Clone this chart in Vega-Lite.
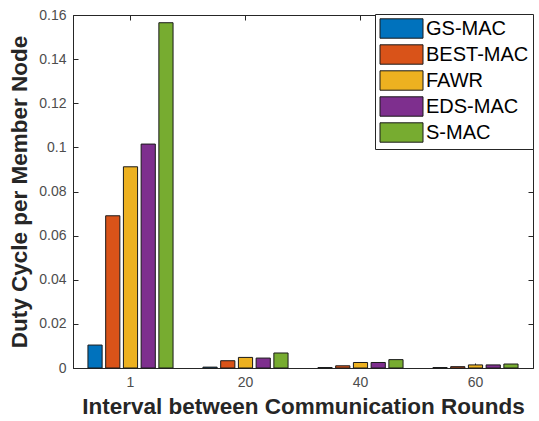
{
  "$schema": "https://vega.github.io/schema/vega-lite/v6.json",
  "width": 460,
  "height": 353,
  "autosize": {"type": "none"},
  "padding": {"left": 73, "top": 15, "right": 6, "bottom": 53},
  "background": "white",
  "config": {
    "font": "Liberation Sans",
    "view": {"stroke": "#262626", "strokeWidth": 1},
    "axis": {"grid": false, "domainColor": "#262626", "tickColor": "#262626", "labelColor": "#4d4d4d", "labelFont": "Liberation Sans", "labelFontSize": 14, "titleFont": "Liberation Sans", "titleFontWeight": "bold", "titleColor": "#262626", "titleFontSize": 22.5}
  },
  "data": {
    "values": [
      {"interval": "1", "protocol": "GS-MAC", "duty": 0.0104},
      {"interval": "1", "protocol": "BEST-MAC", "duty": 0.069},
      {"interval": "1", "protocol": "FAWR", "duty": 0.0912},
      {"interval": "1", "protocol": "EDS-MAC", "duty": 0.1015},
      {"interval": "1", "protocol": "S-MAC", "duty": 0.1565},
      {"interval": "20", "protocol": "GS-MAC", "duty": 0.0004},
      {"interval": "20", "protocol": "BEST-MAC", "duty": 0.0033},
      {"interval": "20", "protocol": "FAWR", "duty": 0.0048},
      {"interval": "20", "protocol": "EDS-MAC", "duty": 0.0045},
      {"interval": "20", "protocol": "S-MAC", "duty": 0.0068},
      {"interval": "40", "protocol": "GS-MAC", "duty": 0.0002},
      {"interval": "40", "protocol": "BEST-MAC", "duty": 0.001},
      {"interval": "40", "protocol": "FAWR", "duty": 0.0025},
      {"interval": "40", "protocol": "EDS-MAC", "duty": 0.0025},
      {"interval": "40", "protocol": "S-MAC", "duty": 0.0038},
      {"interval": "60", "protocol": "GS-MAC", "duty": 0.0002},
      {"interval": "60", "protocol": "BEST-MAC", "duty": 0.0006},
      {"interval": "60", "protocol": "FAWR", "duty": 0.0014},
      {"interval": "60", "protocol": "EDS-MAC", "duty": 0.0014},
      {"interval": "60", "protocol": "S-MAC", "duty": 0.0018}
    ]
  },
  "resolve": {"axis": {"x": "independent", "y": "independent"}},
  "layer": [
    {
      "mark": {"type": "bar", "stroke": "#1a1a1a", "strokeWidth": 1},
      "encoding": {
        "x": {"field": "interval", "type": "ordinal", "sort": ["1", "20", "40", "60"],
          "scale": {"paddingInner": 0.26, "paddingOuter": 0.13},
          "axis": {"title": "Interval between Communication Rounds", "labelAngle": 0, "tickSize": -5, "labelPadding": 12, "titlePadding": 6}},
        "xOffset": {"field": "protocol", "type": "nominal", "sort": ["GS-MAC", "BEST-MAC", "FAWR", "EDS-MAC", "S-MAC"], "scale": {"paddingInner": 0.2}},
        "y": {"field": "duty", "type": "quantitative",
          "scale": {"domain": [0, 0.16], "nice": false},
          "axis": {"title": "Duty Cycle per Member Node", "values": [0, 0.02, 0.04, 0.06, 0.08, 0.1, 0.12, 0.14, 0.16], "format": ".2~f", "tickSize": -5, "labelPadding": 12, "titlePadding": 7}},
        "color": {"field": "protocol", "type": "nominal", "sort": ["GS-MAC", "BEST-MAC", "FAWR", "EDS-MAC", "S-MAC"],
          "scale": {"domain": ["GS-MAC", "BEST-MAC", "FAWR", "EDS-MAC", "S-MAC"], "range": ["#0072BD", "#D95319", "#EDB120", "#7E2F8E", "#77AC30"]},
          "legend": {"title": null, "orient": "none", "legendX": 302, "legendY": -1, "strokeColor": "#262626", "fillColor": "white", "padding": 4, "symbolType": "M-2.15,-0.97H2.15V0.97H-2.15Z", "symbolSize": 400, "symbolStrokeColor": "#1a1a1a", "symbolStrokeWidth": 1, "symbolOpacity": 1, "labelFontSize": 20, "labelColor": "#000000", "labelFont": "Liberation Sans", "rowPadding": 1, "labelOffset": 14, "symbolOffset": 12}}
      }
    },
    {
      "mark": {"type": "bar", "opacity": 0},
      "encoding": {
        "x": {"field": "interval", "type": "ordinal", "sort": ["1", "20", "40", "60"],
          "scale": {"paddingInner": 0.26, "paddingOuter": 0.13},
          "axis": {"orient": "top", "title": null, "labels": false, "tickSize": -5, "domain": false}},
        "y": {"field": "duty", "type": "quantitative",
          "scale": {"domain": [0, 0.16], "nice": false},
          "axis": {"orient": "right", "title": null, "labels": false, "values": [0, 0.02, 0.04, 0.06, 0.08, 0.1, 0.12, 0.14, 0.16], "tickSize": -5, "domain": false}}
      }
    }
  ]
}
